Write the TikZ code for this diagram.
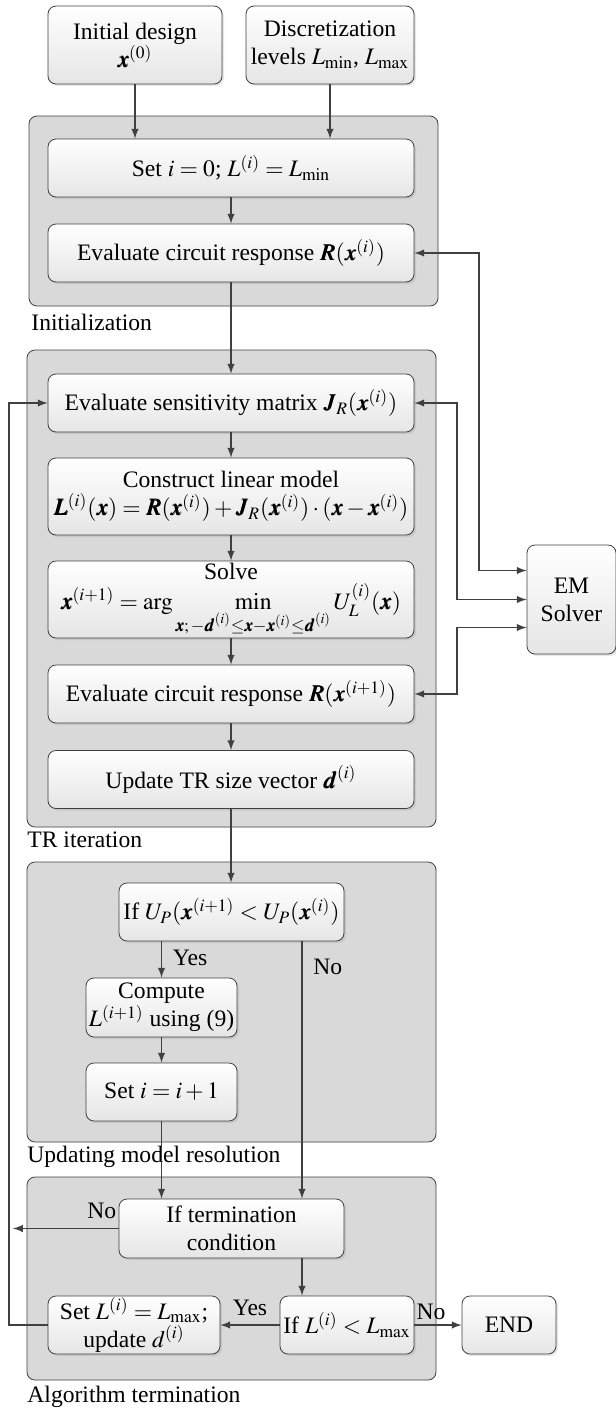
\documentclass[tikz,border=0pt]{standalone}
\usepackage{mathptmx}
\usepackage{bm}
\usepackage{fontspec}
\setmainfont{Liberation Serif}
\usetikzlibrary{shadows}

\begin{document}
\begin{tikzpicture}[x=0.5pt,y=-0.5pt,
        font=\fontsize{11.8}{14}\selectfont,
        box/.style={draw=black!75, rounded corners=4pt, top color=white, bottom color=black!10,
            align=center, inner sep=0pt, drop shadow={opacity=0.2,shadow xshift=1pt,shadow yshift=-1pt}},
        wide/.style={box, minimum width=183pt, minimum height=29pt},
        group/.style={draw=black!75, fill=black!15, rounded corners=4pt},
        flow/.style={draw=black!75, line width=0.7pt, -latex},
        dflow/.style={draw=black!75, line width=0.7pt, latex-latex},
        tag/.style={anchor=west, inner sep=0pt}]
        \useasboundingbox (0,0) rectangle (616,1409);
        %\draw[gray, dashed] (0,0) grid[step=50] (616,1409);

        % groups
        \draw[group] (29,116) rectangle (438,306);
        \draw[group] (27,350) rectangle (436,827);
        \draw[group] (27,862) rectangle (436,1142);
        \draw[group] (27,1177) rectangle (436,1380);
        \node[tag] (gInit) at (31,322) {Initialization};
        \node[tag] (gTR) at (27,840) {TR iteration};
        \node[tag] (gUpd) at (27,1157) {Updating model resolution};
        \node[tag] (gEnd) at (27,1397) {Algorithm termination};

        % inputs
        \node[box, minimum width=87pt, minimum height=39pt] (init) at (135,45) {Initial design\\ $\bm{x}^{(0)}$};
        \node[box, minimum width=84pt, minimum height=39pt] (disc) at (330,45) {Discretization\\ levels $L_{\min}$, $L_{\max}$};

        % main column
        \node[wide] (set0) at (231,168) {Set $i=0$; $L^{(i)}=L_{\min}$};
        \node[wide] (eval1) at (231,253) {Evaluate circuit response $\bm{R}(\bm{x}^{(i)})$};
        \node[wide] (sens) at (231,403) {Evaluate sensitivity matrix $\bm{J}_R(\bm{x}^{(i)})$};
        \node[wide, minimum height=38.5pt] (lin) at (231,496.5) {Construct linear model\\
            $\bm{L}^{(i)}(\bm{x})=\bm{R}(\bm{x}^{(i)})+\bm{J}_R(\bm{x}^{(i)})\cdot(\bm{x}-\bm{x}^{(i)})$};
        \node[wide, minimum height=38.5pt] (solve) at (231,599.5) {Solve\\[1pt]
            $\bm{x}^{(i+1)}=\arg\min\limits_{\bm{x};\,-\bm{d}^{(i)}\le\bm{x}-\bm{x}^{(i)}\le\bm{d}^{(i)}}U_L^{(i)}(\bm{x})$};
        \node[wide] (eval2) at (231,694) {Evaluate circuit response $\bm{R}(\bm{x}^{(i+1)})$};
        \node[wide] (upd) at (231,779.5) {Update TR size vector $\bm{d}^{(i)}$};

        % model resolution
        \node[box, minimum width=112.5pt, minimum height=29pt] (ifup) at (231.5,912) {If $U_P(\bm{x}^{(i+1)}<U_P(\bm{x}^{(i)})$};
        \node[box, minimum width=75.5pt, minimum height=29.5pt] (comp) at (161.5,1007.5) {Compute\\ $L^{(i+1)}$ using (9)};
        \node[box, minimum width=75.5pt, minimum height=29pt] (seti) at (161.5,1092) {Set $i=i+1$};

        % termination
        \node[box, minimum width=112.5pt, minimum height=29.5pt] (ifterm) at (231.5,1228.5) {If termination\\ condition};
        \node[box, minimum width=86pt, minimum height=29pt] (setL) at (134,1325) {Set $L^{(i)}=L_{\max}$;\\ update $d^{(i)}$};
        \node[box, minimum width=67pt, minimum height=29pt] (ifL) at (347,1325) {If $L^{(i)}<L_{\max}$};
        \node[box, minimum width=47pt, minimum height=29pt] (end) at (509,1325) {END};
        \node[box, minimum width=44.5pt, minimum height=54.5pt] (em) at (571.5,599.5) {EM\\ Solver};

        \coordinate (busa) at (479,0);
        \coordinate (busb) at (457,0);
        \coordinate (emA) at ([yshift=14.5pt]em.west);
        \coordinate (emC) at ([yshift=-14pt]em.west);
        \coordinate (nox) at (302,0);
        \coordinate (loopx) at (9,0);

        % main flow
        \draw[flow] (init) -- (init|-set0.north);
        \draw[flow] (disc) -- (disc|-set0.north);
        \draw[flow] (set0) -- (eval1);
        \draw[flow] (eval1) -- (sens);
        \draw[flow] (sens) -- (lin);
        \draw[flow] (lin) -- (solve);
        \draw[flow] (solve) -- (eval2);
        \draw[flow] (eval2) -- (upd);
        \draw[flow] (upd) -- (upd|-ifup.north);
        \draw[flow] (comp|-ifup.south) -- (comp) node[pos=0.45, right=2pt]{Yes};
        \draw[flow] (comp) -- (seti);
        \draw[flow] (seti) -- (seti|-ifterm.north);
        \draw[flow] (nox|-ifup.south) -- (nox|-ifterm.north) node[pos=0.1, right=2pt]{No};
        \draw[flow] (nox|-ifterm.south) -- (nox|-ifL.north);
        \draw[flow] (ifterm.west) -- ([xshift=2pt]loopx|-ifterm.west) node[pos=0.16, above=1pt]{No};
        \draw[flow] (ifL) -- (setL) node[midway, above=1pt]{Yes};
        \draw[flow] (ifL) -- (end) node[pos=0.35, above=-1pt]{No};
        \draw[flow] (setL.west) -- (loopx|-setL) -- (loopx|-sens) -- (sens.west);

        % EM solver links
        \draw[dflow] (eval1.east) -| (busa|-emA) -- (emA);
        \draw[dflow] (sens.east) -| (busb|-em.west) -- (em.west);
        \draw[dflow] (eval2.east) -| (busb|-emC) -- (emC);
    \end{tikzpicture}
\end{document}
